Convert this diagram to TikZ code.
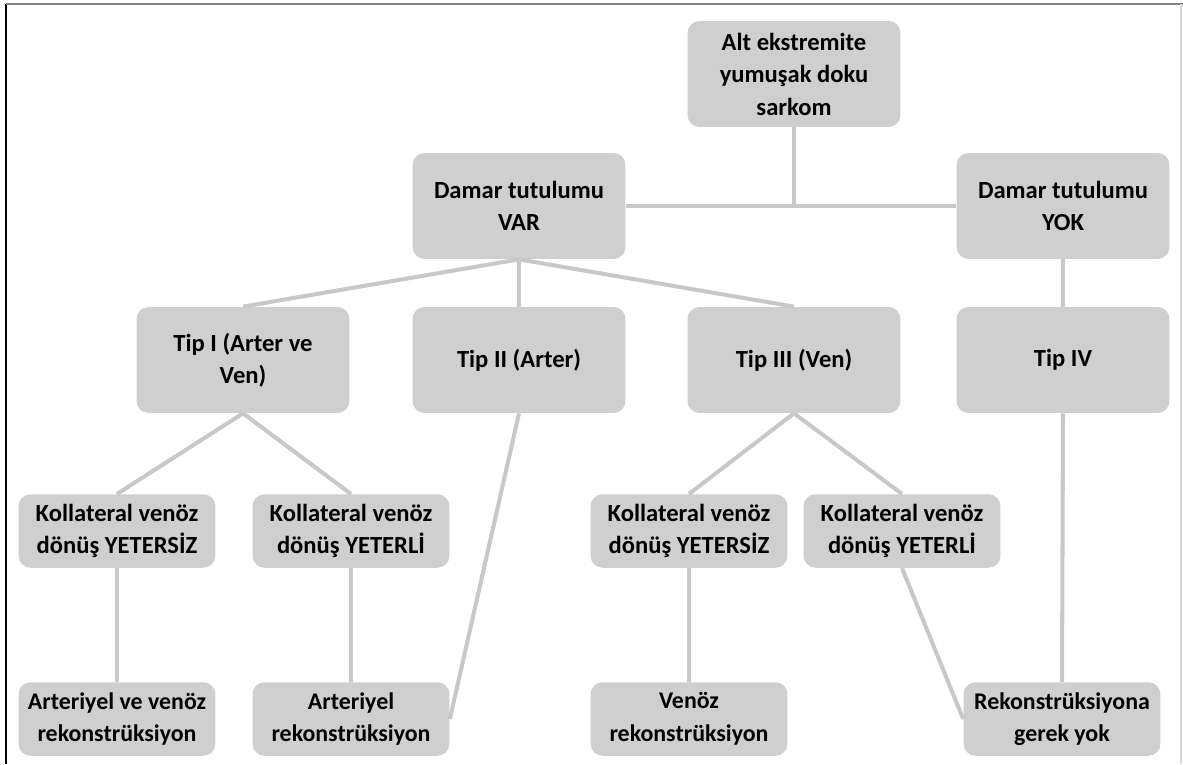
\documentclass[tikz,border=0pt]{standalone}
\usepackage{fontspec}
\setmainfont{Carlito}
\definecolor{boxgray}{RGB}{207,207,207}
\definecolor{linegray}{RGB}{200,200,200}
\tikzset{
  bigbox/.style={draw=none, fill=boxgray, rounded corners=0.24cm, align=center,
    minimum width=4.26cm, minimum height=2.12cm, inner sep=2pt,
    font=\fontsize{14}{18.5}\selectfont\bfseries},
  smallbox/.style={bigbox, minimum width=3.94cm, minimum height=1.47cm},
  resultbox/.style={smallbox, font=\fontsize{13.6}{18.5}\selectfont\bfseries},
  link/.style={draw=linegray, line width=2.3pt}
}

\begin{document}
\begin{tikzpicture}[x=0.02cm, y=-0.02cm]
\useasboundingbox (0,0) rectangle (1183,764);
\draw[black, line width=0.6pt] (6,4) -- (6,764);
\draw[gray, line width=1.2pt] (6,4) -- (1183,4);
\draw[gray!30, line width=0.6pt] (1181,4) -- (1181,764);

\node[bigbox] (root) at (794,74) {Alt ekstremite\\yumuşak doku\\sarkom};
\node[bigbox] (var) at (519,206) {Damar tutulumu\\VAR};
\node[bigbox] (yok) at (1063,206) {Damar tutulumu\\YOK};
\node[bigbox] (tip1) at (243,360) {Tip I (Arter ve\\Ven)};
\node[bigbox] (tip2) at (519,360) {Tip II (Arter)};
\node[bigbox] (tip3) at (794,360) {Tip III (Ven)};
\node[bigbox] (tip4) at (1063,360) {Tip IV};
\node[smallbox] (k1) at (117,531) {Kollateral venöz\\dönüş YETERSİZ};
\node[smallbox] (k2) at (351,531) {Kollateral venöz\\dönüş YETERLİ};
\node[smallbox] (k3) at (689,531) {Kollateral venöz\\dönüş YETERSİZ};
\node[smallbox] (k4) at (902,531) {Kollateral venöz\\dönüş YETERLİ};
\node[resultbox] (r1) at (117,719) {Arteriyel ve venöz\\rekonstrüksiyon};
\node[resultbox] (r2) at (351,719) {Arteriyel\\rekonstrüksiyon};
\node[resultbox] (r3) at (689,719) {Venöz\\rekonstrüksiyon};
\node[resultbox] (r4) at (1062,719) {Rekonstrüksiyona\\gerek yok};

\coordinate (j) at (root |- var);
\draw[link] (root.south) -- (j);
\draw[link] (var.east) -- (yok.west);
\foreach \t in {tip1,tip2,tip3}
  \draw[link] (var.south) -- (\t.north);
\draw[link] (yok.south) -- (tip4.north);
\draw[link] (tip4.south) -- (r4.north);
\draw[link] (tip1.south) -- (k1.north);
\draw[link] (tip1.south) -- (k2.north);
\draw[link] (tip3.south) -- (k3.north);
\draw[link] (tip3.south) -- (k4.north);
\draw[link] (tip2.south) -- (r2.east);
\draw[link] (k4.south) -- (r4.west);
\draw[link] (k1.south) -- (r1.north);
\draw[link] (k2.south) -- (r2.north);
\draw[link] (k3.south) -- (r3.north);
\end{tikzpicture}
\end{document}
